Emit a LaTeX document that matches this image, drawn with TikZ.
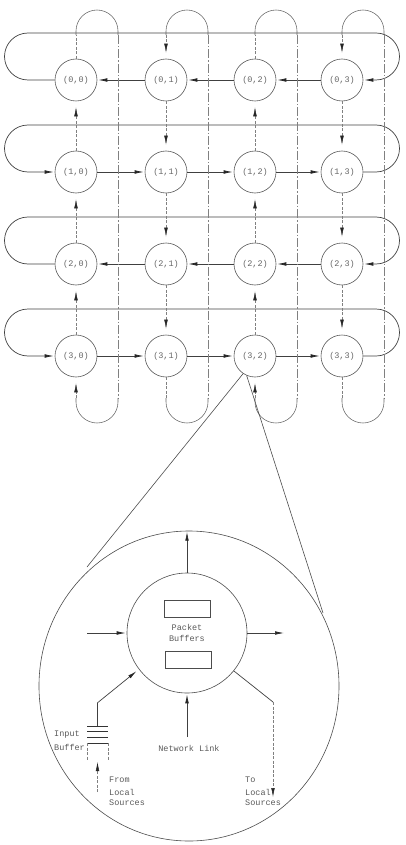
\documentclass[tikz,border=0pt]{standalone}
\usepackage{fontspec}
\newfontfamily\plotfont{Liberation Mono}
\newcommand\plotlbl{\plotfont\fontsize{8.5}{11.5}\selectfont}
\usetikzlibrary{arrows.meta,shapes.geometric}
\begin{document}
\begin{tikzpicture}[x=1pt,y=-1pt,
  nd/.style={circle, draw=black!65, line width=0.6pt, minimum size=42pt, inner sep=0pt, font=\plotlbl, text=black!60},
  hl/.style={draw=black!75, line width=0.7pt},
  harr/.style={hl, -{Latex[length=9pt,width=3.6pt,color=black!85]}, shorten >=1pt},
  rring/.style={hl, rounded corners=23.5pt},
  rarr/.style={rring, -{Latex[length=9pt,width=3.6pt,color=black!85]}, shorten >=1pt},
  vl/.style={draw=black!50, line width=0.5pt, dash pattern=on 3pt off 1.5pt},
  varr/.style={vl, -{Latex[length=9pt,width=3.6pt,color=black!85]}, shorten >=6pt},
  ret/.style={draw=black!50, line width=0.5pt, dash pattern=on 9pt off 2pt on 1.5pt off 2pt},
  vloop/.style={draw=black!60, line width=0.55pt, rounded corners=21pt},
  cl/.style={draw=black!70, line width=0.6pt},
  txt/.style={font=\plotlbl, text=black!65, inner sep=0pt},
  bufbox/.style={draw=black!70, line width=0.6pt, minimum width=46pt, minimum height=17pt, inner sep=0pt},
  bufline/.style={draw=black!80, line width=0.9pt}
]
\useasboundingbox (0,0) rectangle (405,845);

% ---- mesh nodes
\foreach \r/\yy in {0/80,1/172,2/264,3/356}
  \foreach \c/\xx in {0/76,1/166,2/255,3/342}
    \node[nd] (n\r\c) at (\xx,\yy) {(\r,\c)};

% ---- row rings
\draw[rarr] (n00) -- (4.5,80) -- (4.5,33) -- (399.5,33) -- (399.5,80) -- (n03);
\draw[rarr] (n13) -- (399.5,172) -- (399.5,125) -- (4.5,125) -- (4.5,172) -- (n10);
\draw[rarr] (n20) -- (4.5,264) -- (4.5,217) -- (399.5,217) -- (399.5,264) -- (n23);
\draw[rarr] (n33) -- (399.5,356) -- (399.5,309) -- (4.5,309) -- (4.5,356) -- (n30);

\foreach \r in {0,2} {
  \draw[harr] (n\r3) -- (n\r2);
  \draw[harr] (n\r2) -- (n\r1);
  \draw[harr] (n\r1) -- (n\r0);
}
\foreach \r in {1,3} {
  \draw[harr] (n\r0) -- (n\r1);
  \draw[harr] (n\r1) -- (n\r2);
  \draw[harr] (n\r2) -- (n\r3);
}

% ---- column rings
\foreach \c/\xx in {0/76,1/166,2/255,3/342} {
  \coordinate (tL\c) at (\xx,35);
  \coordinate (tR\c) at (\xx+42,35);
  \coordinate (bL\c) at (\xx,398);
  \coordinate (bR\c) at (\xx+42,398);
  \draw[vloop] (tL\c) -- (\xx,10) -- (\xx+42,10) -- (tR\c);
  \draw[ret] (tR\c) -- (bR\c);
  \draw[vloop] (bR\c) -- (\xx+42,423) -- (\xx,423) -- (bL\c);
}
\foreach \c in {0,2} {
  \draw[vl] (n0\c) -- (tL\c);
  \draw[varr] (bL\c) -- (n3\c);
  \draw[varr] (n3\c) -- (n2\c);
  \draw[varr] (n2\c) -- (n1\c);
  \draw[varr] (n1\c) -- (n0\c);
}
\foreach \c in {1,3} {
  \draw[varr] (tL\c) -- (n0\c);
  \draw[varr] (n0\c) -- (n1\c);
  \draw[varr] (n1\c) -- (n2\c);
  \draw[varr] (n2\c) -- (n3\c);
  \draw[vl] (n3\c) -- (bL\c);
}

% ---- magnified router
\node[ellipse, draw=black!70, line width=0.6pt, minimum width=300pt, minimum height=310pt, inner sep=0pt] (zoomc) at (189,686) {};
\coordinate (tanL) at (87,567);
\coordinate (tanR) at (323,613);
\draw[cl] (n32.236) -- (tanL);
\draw[cl] (n32.247) -- (tanR);

\node[circle, draw=black!70, line width=0.6pt, minimum size=120pt, inner sep=0pt] (router) at (187,633) {};
\node[bufbox] (pb1) at (187,608.5) {};
\node[bufbox] (pb2) at (188,660) {};
\node[txt, align=center] (pbl) at (187,633) {Packet\\Buffers};

\draw[harr] (router.north) -- (router.north |- zoomc.north);
\coordinate (inW) at (87,633);
\draw[harr] (inW) -- (router.west);
\coordinate (outE) at (285,633);
\draw[harr] (router.east) -- (outE);
\coordinate (netl) at (187,737);
\draw[harr] (netl) -- (router.south);
\node[txt] (netlbl) at (189,748) {Network Link};

% input buffer
\node[minimum width=21pt, minimum height=17pt, inner sep=0pt] (ibuf) at (97.5,734.5) {};
\foreach \yy in {726,731.7,737.3,743}
  \draw[bufline] (87,\yy) -- (108,\yy);
\draw[vl] (87,743) -- (87,760);
\draw[vl] (108,743) -- (108,760);
\draw[harr, shorten >=3pt] (ibuf.north) -- ++(0,-23) -- (router.217);
\coordinate (ibbot) at (97.5,760);
\coordinate (fls) at (97.5,792);
\draw[varr, shorten >=2pt] (fls) -- (ibbot);
\node[txt, anchor=west] (inlbl1) at (54,735) {Input};
\node[txt, anchor=west] (inlbl2) at (54,747) {Buffer};
\node[txt, anchor=west] (fr1) at (109,780) {From};
\node[txt, anchor=west] (fr2) at (109,792) {Local};
\node[txt, anchor=west] (fr3) at (109,803) {Sources};

% output to local
\coordinate (tl1) at (273,702);
\coordinate (tl2) at (273,797);
\draw[hl] (router.-39) -- (tl1);
\draw[varr, shorten >=0pt] (tl1) -- (tl2);
\node[txt, anchor=west] (to1) at (245,780) {To};
\node[txt, anchor=west] (to2) at (245,792) {Local};
\node[txt, anchor=west] (to3) at (245,803) {Sources};
\end{tikzpicture}
\end{document}
